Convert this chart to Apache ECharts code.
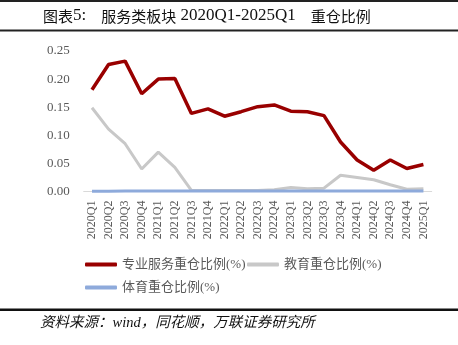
<!DOCTYPE html>
<html>
<head>
<meta charset="utf-8">
<script src="https://cdn.jsdelivr.net/npm/echarts@6/dist/echarts.min.js"></script>
<style>
html,body{margin:0;padding:0;background:#fff;}
#chart{width:458px;height:345px;}
</style>
</head>
<body>
<div id="chart"></div>
<script>
var categories = ['2020Q1','2020Q2','2020Q3','2020Q4','2021Q1','2021Q2','2021Q3','2021Q4','2022Q1','2022Q2','2022Q3','2022Q4','2023Q1','2023Q2','2023Q3','2023Q4','2024Q1','2024Q2','2024Q3','2024Q4','2025Q1'];
var professionalServices = [0.181,0.226,0.232,0.174,0.200,0.201,0.139,0.147,0.134,0.142,0.151,0.154,0.143,0.142,0.135,0.088,0.056,0.038,0.056,0.041,0.048];
var education = [0.149,0.111,0.085,0.040,0.070,0.043,0.002,0.002,0.002,0.002,0.002,0.003,0.007,0.005,0.006,0.029,0.025,0.021,0.012,0.004,0.005];
var sports = [0.0005,0.0005,0.0008,0.0008,0.0008,0.0008,0.0008,0.0008,0.0008,0.0008,0.0008,0.0008,0.0008,0.0008,0.0008,0.0008,0.0008,0.0008,0.0008,0.0008,0.0008];
var seriesNames = ['专业服务重仓比例(%)','教育重仓比例(%)','体育重仓比例(%)'];
var yTicks = [0, 0.05, 0.10, 0.15, 0.20, 0.25];

var serif = '"Liberation Serif","Times New Roman","Noto Sans CJK SC",serif';
var chart = echarts.init(document.getElementById('chart'), null, {renderer:'canvas'});
var legendText = {fontFamily: serif, fontSize: 13, color: '#595959'};
chart.setOption({
  animation: false,
  backgroundColor: '#fff',
  grid: {left: 83.7, right: 26.3, top: 51, bottom: 153.5, containLabel: false},
  xAxis: {
    type: 'category', data: categories, boundaryGap: true,
    axisLine: {lineStyle: {color: '#D9D9D9', width: 1}},
    axisTick: {show: false},
    axisLabel: {rotate: 90, interval: 0, margin: 9, fontFamily: serif, fontSize: 12, color: '#595959'}
  },
  yAxis: {
    type: 'value', min: yTicks[0], max: yTicks[yTicks.length-1], interval: 0.05,
    axisLine: {show: false}, axisTick: {show: false}, splitLine: {show: false},
    axisLabel: {margin: 14, fontFamily: serif, fontSize: 13, color: '#595959', formatter: function(v){return v.toFixed(2);}}
  },
  legend: [
    {data:[seriesNames[0]], left: 85, top: 258, padding: 0, icon: 'roundRect', itemWidth: 32, itemHeight: 4, textStyle: legendText},
    {data:[seriesNames[1]], left: 247, top: 258, padding: 0, icon: 'roundRect', itemWidth: 32, itemHeight: 4, textStyle: legendText},
    {data:[seriesNames[2]], left: 85, top: 281, padding: 0, icon: 'roundRect', itemWidth: 32, itemHeight: 4, textStyle: legendText}
  ],
  series: [
    {name: seriesNames[0], type: 'line', data: professionalServices, symbol: 'none', color: '#990000', lineStyle: {width: 3.5, color: '#990000'}},
    {name: seriesNames[1], type: 'line', data: education, symbol: 'none', color: '#C8C8C8', lineStyle: {width: 3, color: '#C8C8C8'}},
    {name: seriesNames[2], type: 'line', data: sports, symbol: 'none', color: '#8EAADB', lineStyle: {width: 3, color: '#8EAADB'}}
  ],
  graphic: [
    {type: 'rect', shape: {x: 0, y: 0, width: 458, height: 2}, style: {fill: '#222'}},
    {type: 'rect', shape: {x: 0, y: 29.5, width: 458, height: 2}, style: {fill: '#222'}},
    {type: 'rect', shape: {x: 0, y: 308.5, width: 458, height: 2.5}, style: {fill: '#111'}},
    {type: 'text', x: 43, y: 16, style: {
      text: '{c|图表}{l|5:}{c|　服务类板块}{l| 2020Q1-2025Q1}{c|　重仓比例}',
      verticalAlign: 'middle', align: 'left',
      rich: {
        c: {fontFamily: '"Noto Sans CJK SC",serif', fontSize: 15, fill: '#111'},
        l: {fontFamily: serif, fontSize: 17, fill: '#111'}
      }
    }},
    {type: 'text', x: 40, y: 323, style: {
      text: '资料来源：wind，同花顺，万联证券研究所',
      verticalAlign: 'middle', align: 'left',
      fontFamily: serif, fontSize: 14.5, fontStyle: 'italic', fill: '#111'
    }}
  ]
});
</script>
</body>
</html>
